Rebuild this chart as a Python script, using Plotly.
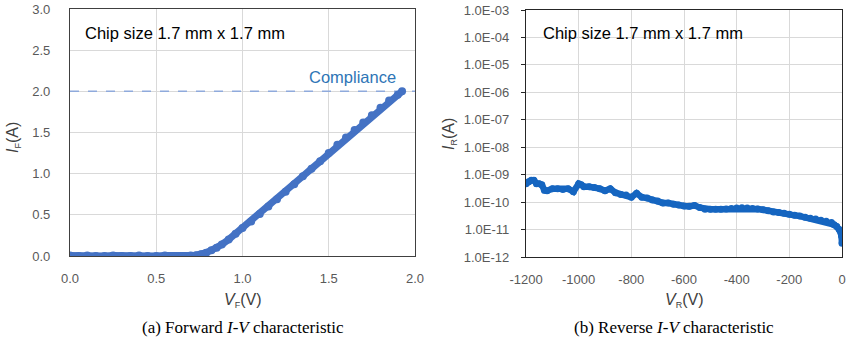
import plotly.graph_objects as go

# ---------------- data ----------------
vf = [0.00, 0.05, 0.10, 0.15, 0.20, 0.25, 0.30, 0.35, 0.40, 0.45, 0.50, 0.55, 0.60, 0.65,
      0.70, 0.73, 0.76, 0.79, 0.82, 0.85, 0.88, 0.92, 0.96, 1.00, 1.05, 1.10, 1.15, 1.20, 1.25,
      1.30, 1.35, 1.40, 1.45, 1.50, 1.55, 1.60, 1.65, 1.70, 1.75, 1.80, 1.85, 1.90, 1.925]
i_f = [0.005, 0.0, 0.005, 0.0, 0.0, 0.005, 0.0, 0.0, 0.005, 0.0, 0.0, 0.005, 0.0, 0.0,
       0.005, 0.01, 0.02, 0.04, 0.07, 0.10, 0.14, 0.20, 0.27, 0.34, 0.42, 0.51, 0.60, 0.69, 0.78,
       0.87, 0.97, 1.06, 1.15, 1.25, 1.35, 1.44, 1.53, 1.62, 1.71, 1.80, 1.89, 1.96, 2.00]

vr = [-1200, -1190, -1180, -1170, -1160, -1150, -1140, -1130, -1120, -1100, -1080, -1060,
      -1040, -1020, -1000, -990, -980, -960, -940, -920, -900, -880, -860, -840, -820,
      -800, -780, -760, -740, -720, -700, -680, -660, -640, -620, -600, -580, -560, -540,
      -520, -500, -480, -460, -440, -420, -400, -380, -360, -340, -320, -300, -280, -260,
      -240, -220, -200, -180, -160, -140, -120, -100, -80, -60, -40, -30, -20, -10, -5, -2, 0]
i_r = [4.7e-10, 5.5e-10, 6.3e-10, 6.3e-10, 4.7e-10, 4.7e-10, 4.3e-10, 2.7e-10, 2.6e-10,
       3.1e-10, 3.1e-10, 2.9e-10, 3.1e-10, 2.4e-10, 4.7e-10, 4.3e-10, 3.6e-10, 3.6e-10,
       3.4e-10, 3.1e-10, 2.6e-10, 3.1e-10, 2.2e-10, 1.9e-10, 1.8e-10, 1.5e-10, 2.1e-10,
       1.5e-10, 1.4e-10, 1.2e-10, 1.1e-10, 9.3e-11, 9.3e-11, 8.3e-11, 7.9e-11, 7.2e-11,
       7.0e-11, 7.6e-11, 6.3e-11, 5.5e-11, 5.5e-11, 5.5e-11, 5.5e-11, 5.6e-11, 5.9e-11,
       6.1e-11, 6.2e-11, 6.1e-11, 5.8e-11, 5.6e-11, 5.3e-11, 4.8e-11, 4.4e-11, 4.2e-11,
       3.9e-11, 3.6e-11, 3.3e-11, 3.1e-11, 2.8e-11, 2.6e-11, 2.4e-11, 2.2e-11, 2.0e-11,
       1.8e-11, 1.5e-11, 1.3e-11, 1.0e-11, 8.0e-12, 6.0e-12, 3.2e-12]

compliance = 2.0
y1_ticks = [0.0, 0.5, 1.0, 1.5, 2.0, 2.5, 3.0]
x1_ticks = [0.0, 0.5, 1.0, 1.5, 2.0]
y2_ticks = [1e-12, 1e-11, 1e-10, 1e-9, 1e-8, 1e-7, 1e-6, 1e-5, 1e-4, 1e-3]
y2_labels = ["1.0E-12", "1.0E-11", "1.0E-10", "1.0E-09", "1.0E-08", "1.0E-07",
             "1.0E-06", "1.0E-05", "1.0E-04", "1.0E-03"]
x2_ticks = [-1200, -1000, -800, -600, -400, -200, 0]
x2_labels = ["-1200", "-1000", "-800", "-600", "-400", "-200", "0"]

# ---------------- figure ----------------
W, H = 850, 337
def px(x):
    return x / W
def py(y):
    return 1 - y / H

blue1 = "#4472C4"
blue2 = "#1565C0"
tick_font = dict(family="Liberation Sans, Arial", size=13, color="#595959")
grid = "#D9D9D9"
frame = "#404040"

fig = go.Figure()
fig.add_trace(go.Scatter(x=[0, 2.0], y=[compliance, compliance], mode="lines",
                         line=dict(color="#8FAADC", width=1.5, dash="dash"),
                         xaxis="x", yaxis="y", showlegend=False))
fig.add_trace(go.Scatter(x=vf, y=i_f, mode="lines+markers",
                         line=dict(color=blue1, width=7),
                         marker=dict(color=blue1, size=8),
                         xaxis="x", yaxis="y", showlegend=False))
fig.add_trace(go.Scatter(x=vr, y=i_r, mode="lines+markers",
                         line=dict(color=blue2, width=6.5),
                         marker=dict(color=blue2, size=7),
                         xaxis="x2", yaxis="y2", showlegend=False))

fig.update_layout(
    width=W, height=H,
    margin=dict(l=0, r=0, t=0, b=0, autoexpand=False),
    paper_bgcolor="white", plot_bgcolor="white",
    xaxis=dict(domain=[px(70), px(415)], range=[0, 2.0], tickvals=x1_ticks,
               tickformat=".1f", tickfont=tick_font, showgrid=True, gridcolor=grid,
               gridwidth=1, zeroline=False, showline=True, linecolor=frame,
               linewidth=1.3, mirror=True, ticks="", ticklabelstandoff=10,
               automargin=False, anchor="y"),
    yaxis=dict(domain=[py(256), py(9)], range=[0, 3.0], tickvals=y1_ticks,
               tickformat=".1f", tickfont=tick_font, showgrid=True, gridcolor=grid,
               gridwidth=1, zeroline=False, showline=True, linecolor=frame,
               linewidth=1.3, mirror=True, ticks="", ticklabelstandoff=16,
               automargin=False, anchor="x"),
    xaxis2=dict(domain=[px(526), px(842)], range=[-1200, 0], tickvals=x2_ticks,
                ticktext=x2_labels,
                tickfont=tick_font, showgrid=True, gridcolor=grid, gridwidth=1,
                zeroline=False, showline=True, linecolor="#262626", linewidth=1.3,
                mirror=True, ticks="", ticklabelstandoff=10, automargin=False,
                anchor="y2"),
    yaxis2=dict(domain=[py(257), py(10)], type="log", range=[-12, -3],
                tickvals=y2_ticks, ticktext=y2_labels, tickfont=tick_font,
                showgrid=True, gridcolor=grid, gridwidth=1, zeroline=False,
                showline=True, linecolor="#262626", linewidth=1.3, mirror=True,
                ticks="outside", ticklen=4, tickcolor="#262626",
                ticklabelstandoff=9, automargin=False, anchor="x2"),
)

ann_font = dict(family="Liberation Sans, Arial", size=16.5, color="#000000")
title_font = dict(family="Liberation Sans, Arial", size=16, color="#404040")
cap_font = dict(family="Liberation Serif, Times New Roman", size=17, color="#000000")
sub = "<sub><span style='font-size:9px'>%s</span></sub>"
anns = [
    dict(x=px(83), y=py(33), text="Chip size 1.7 mm x 1.7 mm", font=ann_font,
         xanchor="left", yanchor="middle"),
    dict(x=px(541), y=py(33), text="Chip size 1.7 mm x 1.7 mm", font=ann_font,
         xanchor="left", yanchor="middle"),
    dict(x=px(398), y=py(77), text="Compliance",
         font=dict(family="Liberation Sans, Arial", size=16.5, color="#2E75B6"),
         xanchor="right", yanchor="middle"),
    dict(x=px(243), y=py(300), text="<i>V</i>" + sub % "F" + "(V)", font=title_font,
         xanchor="center", yanchor="middle"),
    dict(x=px(684), y=py(300), text="<i>V</i>" + sub % "R" + "(V)", font=title_font,
         xanchor="center", yanchor="middle"),
    dict(x=px(14), y=py(138), text="<i>I</i>" + sub % "F" + "(A)", font=title_font,
         textangle=-90, xanchor="center", yanchor="middle"),
    dict(x=px(449), y=py(134), text="<i>I</i>" + sub % "R" + "(A)", font=title_font,
         textangle=-90, xanchor="center", yanchor="middle"),
    dict(x=px(243), y=py(327), text="(a) Forward <i>I-V</i> characteristic", font=cap_font,
         xanchor="center", yanchor="middle"),
    dict(x=px(674), y=py(327), text="(b) Reverse <i>I-V</i> characteristic", font=cap_font,
         xanchor="center", yanchor="middle"),
]
for a in anns:
    a.update(xref="paper", yref="paper", showarrow=False)
fig.update_layout(annotations=anns)

fig.write_html("out.html")
